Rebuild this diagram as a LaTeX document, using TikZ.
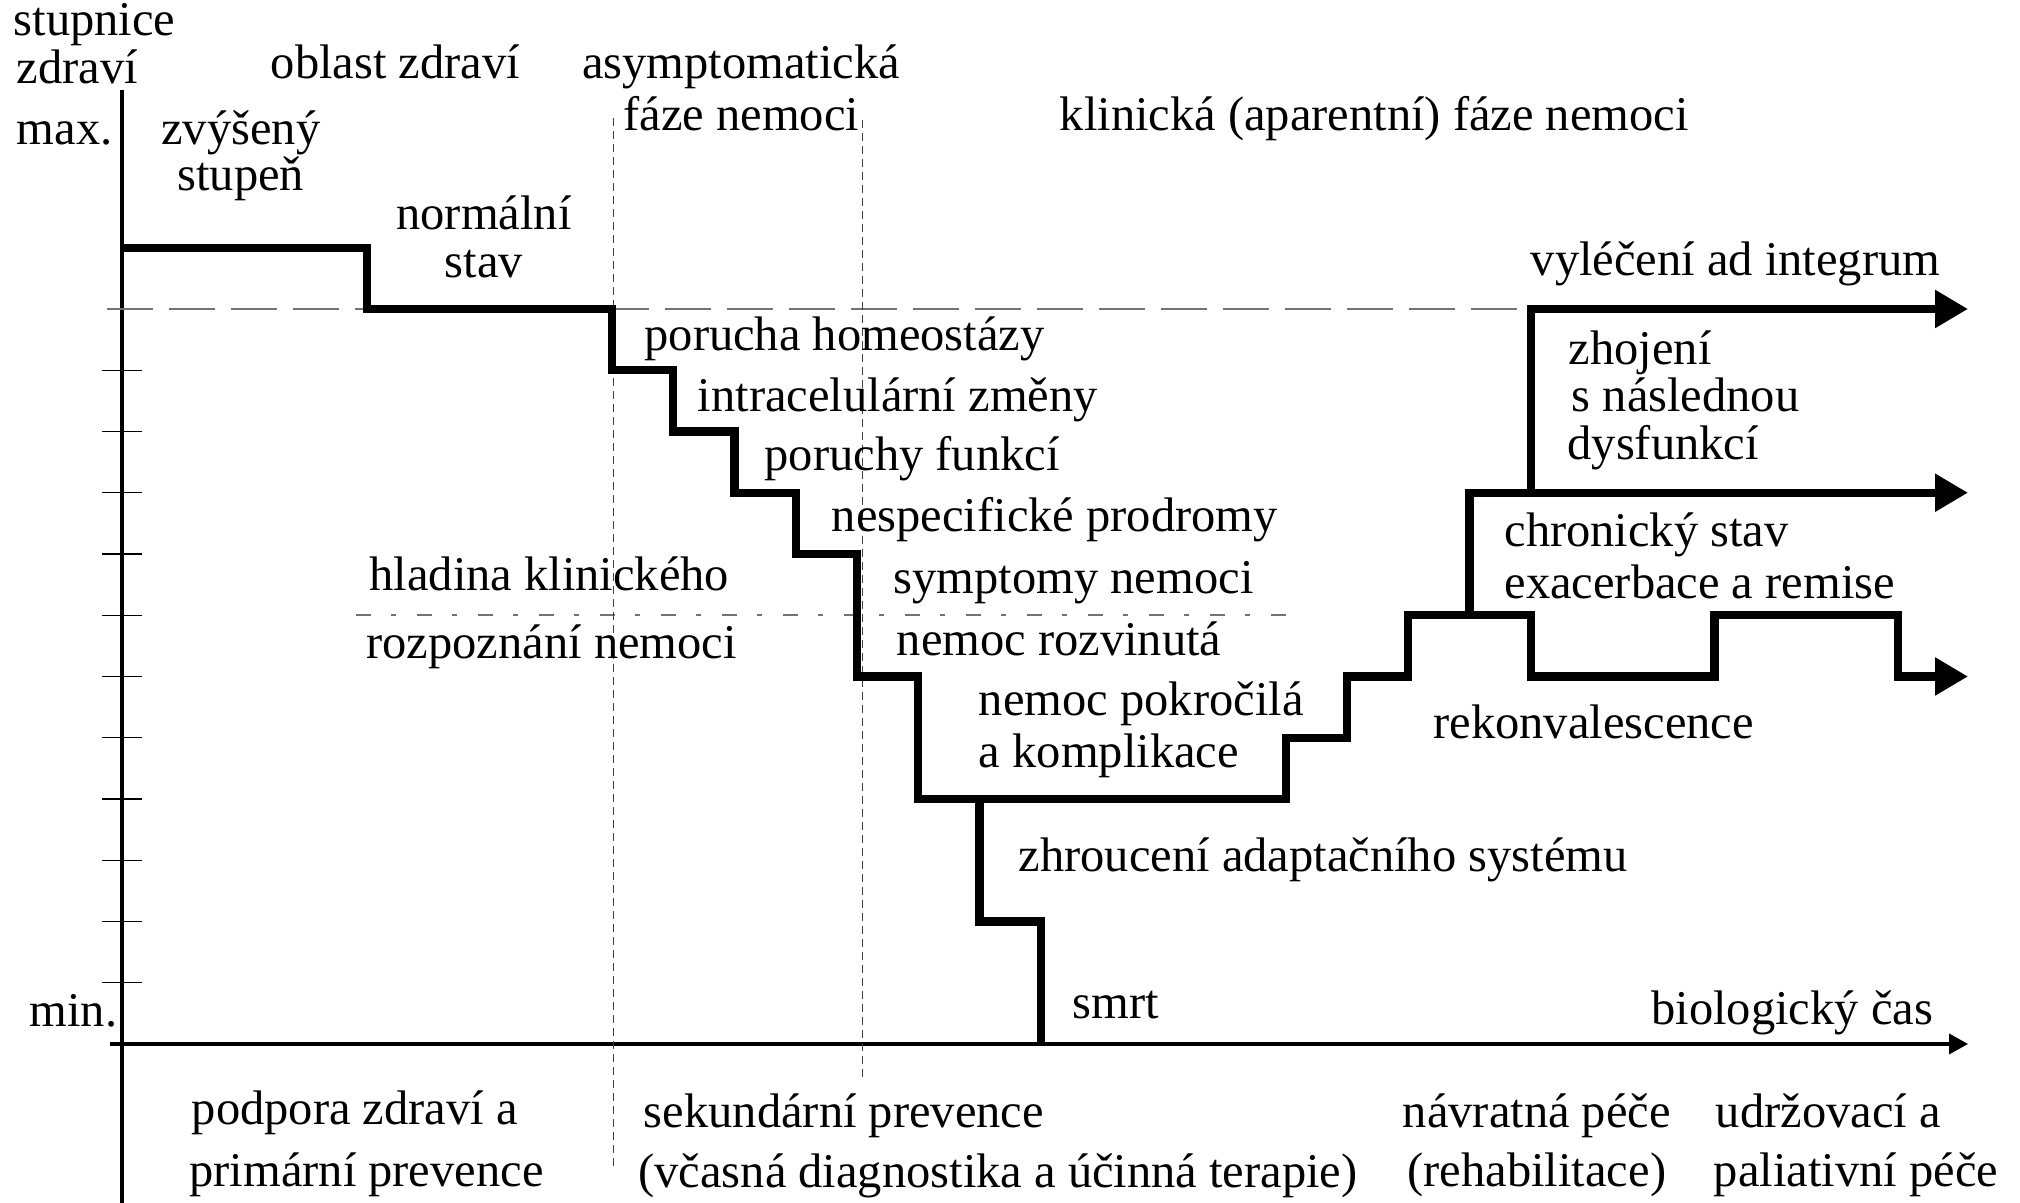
\documentclass[tikz,border=0pt]{standalone}
\usepackage{fontspec}
\setmainfont{Liberation Serif}
\usetikzlibrary{arrows.meta}

\begin{document}
\begin{tikzpicture}[x=0.6125cm,y=0.6125cm,
    lbl/.style={inner sep=0pt,anchor=base west,font=\fontsize{13.8}{16}\selectfont},
    clbl/.style={lbl,anchor=base},
    curve/.style={line width=2.4pt},
    branch/.style={curve,-{Triangle[length=3.3mm,width=3.6mm]}},
    axis/.style={line width=1pt},
    phase/.style={line width=0.35pt,black!75,dash pattern=on 0.8mm off 0.5mm},
    norm/.style={line width=0.5pt,black!55,dash pattern=on 4.6mm off 1.6mm},
    clin/.style={line width=0.5pt,black!55,dash pattern=on 1.5mm off 2mm on 0.5mm off 2.1mm}]
\useasboundingbox (-1.992,-2.596) rectangle (30.988,17.045);

% axes
\draw[axis] (0,-2.6) -- (0,15.58);
\draw[axis,-{Triangle[length=1.9mm,width=2mm]}] (-0.2,0) -- (30.14,0);
\foreach \k in {1,...,11}
  \draw[line width=0.4pt] (-0.33,\k) -- (0.33,\k);

% guide lines
\draw[norm] (-0.25,12) -- (23,12);
\draw[clin] (3.82,7) -- (19,7);
\draw[phase] (8.02,15.12) -- (8.02,-2.01);
\draw[phase] (12.09,15.09) -- (12.09,-0.56);

% course of health
\draw[branch] (0,13) -| (4,12) -| (8,11) -| (9,10) -| (10,9) -| (11,8) -| (12,6)
  -| (13,4) -| (19,5) -| (20,6) -| (21,7) -| (22,9) -- (30.14,9);
\draw[branch] (23,9) -- (23,12) -- (30.14,12);
\draw[branch] (22,7) -| (23,6) -| (26,7) -| (29,6) -- (30.14,6);
\draw[curve] (14,4) |- (15,2) -- (15,0);

% axis labels
\node[lbl] (scale1) at (-1.78,16.46) {stupnice};
\node[lbl] (scale2) at (-1.73,15.68) {zdraví};
\node[lbl] (max) at (-1.73,14.69) {max.};
\node[lbl] (min) at (-1.52,0.29) {min.};
\node[lbl] (time) at (24.96,0.31) {biologický čas};

% phases
\node[lbl] (health) at (2.42,15.76) {oblast zdraví};
\node[clbl] (asym1) at (10.11,15.76) {asymptomatická};
\node[clbl] (asym2) at (10.11,14.91) {fáze nemoci};
\node[lbl] (clinic) at (15.30,14.91) {klinická (aparentní) fáze nemoci};

% states
\node[clbl] (high1) at (1.94,14.69) {zvýšený};
\node[clbl] (high2) at (1.94,13.93) {stupeň};
\node[clbl] (normal1) at (5.91,13.29) {normální};
\node[clbl] (normal2) at (5.91,12.52) {stav};
\node[lbl] (homeo) at (8.52,11.33) {porucha homeostázy};
\node[lbl] (intra) at (9.39,10.33) {intracelulární změny};
\node[lbl] (func) at (10.48,9.37) {poruchy funkcí};
\node[lbl] (prodr) at (11.58,8.36) {nespecifické prodromy};
\node[lbl] (sympt) at (12.59,7.36) {symptomy nemoci};
\node[lbl] (devel) at (12.64,6.35) {nemoc rozvinutá};
\node[lbl] (adv1) at (13.98,5.37) {nemoc pokročilá};
\node[lbl] (adv2) at (13.98,4.51) {a komplikace};
\node[lbl] (collapse) at (14.63,2.81) {zhroucení adaptačního systému};
\node[lbl] (death) at (15.51,0.42) {smrt};
\node[lbl] (level1) at (4.03,7.40) {hladina klinického};
\node[lbl] (level2) at (3.98,6.30) {rozpoznání nemoci};
\node[lbl] (conval) at (21.40,4.98) {rekonvalescence};
\node[lbl] (chron1) at (22.56,8.13) {chronický stav};
\node[lbl] (chron2) at (22.56,7.28) {exacerbace a remise};
\node[lbl] (heal1) at (23.61,11.09) {zhojení};
\node[lbl] (heal2) at (23.66,10.32) {s následnou};
\node[lbl] (heal3) at (23.59,9.55) {dysfunkcí};
\node[lbl] (cure) at (22.99,12.54) {vyléčení ad integrum};

% care
\node[lbl] (prim1) at (1.13,-1.31) {podpora zdraví a};
\node[lbl] (prim2) at (1.09,-2.33) {primární prevence};
\node[lbl] (sec1) at (8.51,-1.36) {sekundární prevence};
\node[lbl] (sec2) at (8.42,-2.35) {(včasná diagnostika a účinná terapie)};
\node[clbl] (rehab1) at (23.10,-1.36) {návratná péče};
\node[clbl] (rehab2) at (23.10,-2.33) {(rehabilitace)};
\node[lbl] (pall1) at (26.01,-1.36) {udržovací a};
\node[lbl] (pall2) at (25.98,-2.33) {paliativní péče};
\end{tikzpicture}
\end{document}
